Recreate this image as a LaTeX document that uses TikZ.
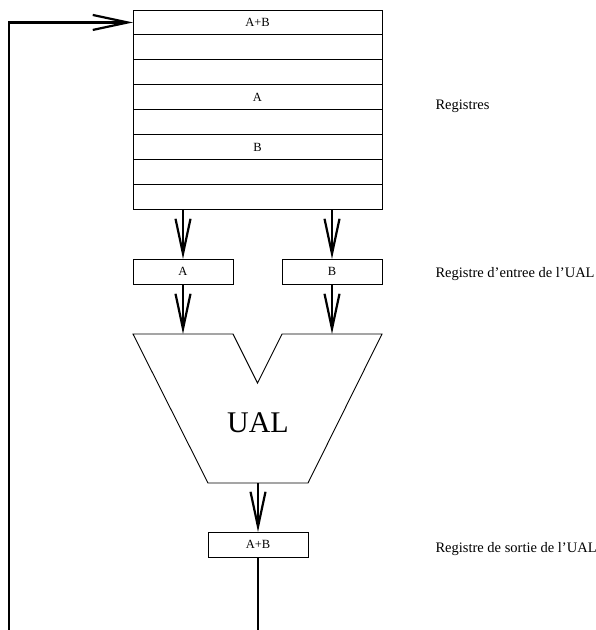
\documentclass[tikz,border=0pt]{standalone}
\usepackage{fontspec}
\setmainfont{Liberation Serif}
\usetikzlibrary{arrows.meta,positioning}

\begin{document}
\begin{tikzpicture}[x=1pt, y=-1pt,
    cell/.style={draw, rectangle, line width=0.9pt, minimum height=24.9pt, minimum width=249pt, inner sep=0pt, outer sep=0pt, font=\fontsize{12.5}{14}\selectfont},
    regbox/.style={draw, rectangle, line width=0.9pt, minimum height=25pt, minimum width=100pt, inner sep=0pt, outer sep=0pt, font=\fontsize{12.5}{14}\selectfont},
    arrow/.style={-{Straight Barb[length=35pt, width=15pt]}, line width=2.2pt},
    wire/.style={line width=2.2pt},
    label/.style={anchor=base west, font=\fontsize{14.5}{17}\selectfont}
]
\useasboundingbox (0,0) rectangle (596,630);

% Register file
\foreach \i/\txt in {1/A+B,2/,3/,4/A,5/,6/B,7/,8/}
  \node[cell] (r\i) at (257.5, {22.45+24.9*(\i-1)}) {\txt};

% Input registers of the UAL
\node[regbox] (inA) at (183,271.5) {A};
\node[regbox] (inB) at (332,271.5) {B};

% UAL
\coordinate (ualA) at (183,334);
\coordinate (ualB) at (332,334);
\coordinate (ualO) at (258,483);
\draw[line width=0.9pt] (133,334) -- (233,334) -- (257.5,383) -- (282,334) -- (382,334) -- (308,483) -- (208,483) -- cycle;
\node[font=\fontsize{30}{36}\selectfont] (ual) at (258,423) {UAL};

% Output register
\node[regbox] (out) at (258,544.5) {A+B};

% Labels
\node[label] (lregs) at (432,109.5) {Registres};
\node[label] (lin) at (432,277) {Registre d'entree de l'UAL};
\node[label] (lout) at (432,552) {Registre de sortie de l'UAL};

% Arrows
\coordinate (bot) at (258,630);
\coordinate (fb) at (9,630);
\draw[arrow] (r8.south -| inA) -- (inA);
\draw[arrow] (r8.south -| inB) -- (inB);
\draw[arrow] (inA) -- (ualA);
\draw[arrow] (inB) -- (ualB);
\draw[arrow] (ualO) -- (out);
\draw[wire] (out) -- (bot);
\draw[arrow] (fb) |- (r1);

\end{tikzpicture}
\end{document}
